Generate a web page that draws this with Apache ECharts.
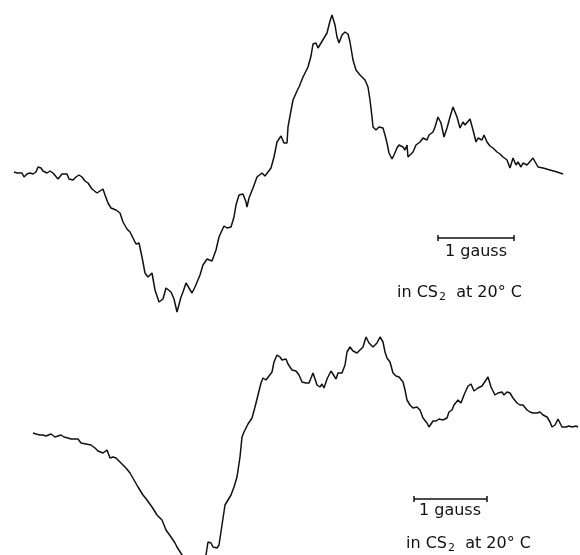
<!DOCTYPE html>
<html>
<head>
<meta charset="utf-8">
<script src="https://cdn.jsdelivr.net/npm/echarts@6/dist/echarts.min.js"></script>
<style>html,body{margin:0;padding:0;background:#fff}#c{width:580px;height:555px}</style>
</head>
<body>
<div id="c"></div>
<script>
// Field sweep position (arbitrary units) and signal (arbitrary units) for each trace
var topField = [14,17,19,22,24,27,30,33,36,38,41,43,47,50,53,55,58,62,64,67,69,73,76,79,82,85,88,92,97,100,103,105,108,111,116,120,123,127,130,133,136,139,142,145,148,152,154,155,159,163,166,168,171,174,177,181,183,186,188,192,195,200,203,207,212,214,216,219,224,227,231,234,236,239,243,246,247,249,253,257,262,265,267,271,274,277,281,284,287,288,290,293,297,299,303,308,311,313,316,318,321,323,327,330,332,335,337,339,342,345,348,350,353,356,360,365,368,370,372,373,376,379,383,385,387,389,392,394,397,399,403,405,407,408,410,413,416,420,423,427,429,433,435,438,441,444,447,450,453,457,460,463,465,467,470,473,476,478,482,484,487,490,493,497,500,503,507,510,513,516,518,521,523,527,529,533,535,538,543,550,557,563];
var topSignal = [3,2,1,2,-2,1,2,1,3,8,7,4,2,4,2,2,-4,1,2,1,-4,-5,-2,0,-2,-6,-8,-14,-18,-16,-14,-20,-28,-33,-35,-38,-47,-54,-57,-63,-69,-68,-82,-98,-102,-98,-99,-115,-127,-124,-113,-112,-117,-124,-137,-122,-117,-108,-110,-118,-112,-100,-90,-84,-86,-88,-75,-62,-51,-53,-52,-42,-30,-20,-19,-27,-32,-23,-13,-2,2,-1,-2,7,18,33,39,32,32,48,59,75,84,88,98,108,119,131,132,127,132,131,142,154,160,150,138,132,140,143,141,133,115,105,100,95,88,75,58,48,45,48,47,40,32,22,16,20,27,30,28,25,30,18,17,23,30,33,37,35,40,43,48,58,52,38,47,58,68,58,47,53,50,52,56,45,33,37,35,40,33,29,27,23,21,18,15,7,17,10,13,8,12,10,9,17,15,8,7,5,3,1];

var botField = [33,36,40,43,46,51,55,58,61,64,68,71,75,78,81,83,86,91,95,98,103,107,110,113,116,121,126,130,134,138,143,147,152,157,162,166,171,175,177,182,186,190,195,200,203,206,208,211,213,217,219,222,225,228,231,234,237,240,242,244,248,252,255,258,261,263,266,268,272,274,277,280,282,286,288,292,296,299,302,306,309,313,315,317,320,322,324,327,331,333,336,338,342,345,347,350,353,357,359,363,366,369,373,375,377,380,383,385,387,390,393,396,399,403,405,407,410,413,417,420,423,427,429,433,436,439,443,447,449,452,454,458,461,464,468,471,474,478,482,484,488,491,495,498,502,504,507,510,513,517,520,523,527,530,533,537,540,543,547,550,552,555,558,560,562,566,569,572,576,578];
var botSignal = [2,1,0,0,-1,1,-2,-1,0,-2,-3,-4,-4,-4,-8,-7,-9,-10,-13,-16,-18,-15,-23,-22,-23,-28,-33,-38,-45,-52,-60,-65,-72,-80,-85,-95,-102,-108,-112,-120,-135,-150,-160,-153,-137,-120,-107,-108,-112,-113,-110,-90,-70,-65,-60,-52,-42,-22,-2,3,11,17,28,40,52,57,55,53,63,73,80,78,75,76,71,65,64,60,53,52,52,62,60,50,48,51,47,56,64,62,56,62,62,70,83,88,84,82,80,88,98,92,88,87,92,98,93,83,77,73,62,59,58,53,45,35,30,27,28,25,17,12,8,14,14,16,15,17,23,25,30,35,32,40,49,51,44,47,49,52,58,48,40,42,43,40,43,42,37,32,30,30,25,23,22,22,23,20,18,13,8,10,16,12,8,8,9,8,9,8];

// 1-gauss scale bars (field units)
var topBar = [438, 514], topBarLevel = -63;
var botBar = [414, 487], botBarLevel = -64;

var labelGauss = '1 gauss';

function zip(a, b) { return a.map(function (v, i) { return [v, b[i]]; }); }

var chart = echarts.init(document.getElementById('c'));
var txt = '#111';
var ff = '"DejaVu Sans", sans-serif';
function condLabel(left, top) {
  return {
    type: 'text', left: left, top: top,
    style: {
      text: '{a|in CS}{s|2}{a|  at 20° C}',
      fill: txt, font: '16px ' + ff,
      rich: {
        a: { fontSize: 16, fontFamily: ff, fill: txt, lineHeight: 20 },
        s: { fontSize: 11, fontFamily: ff, fill: txt, padding: [10, 0, 0, 1], lineHeight: 20 }
      }
    }
  };
}
chart.setOption({
  animation: false,
  backgroundColor: '#fff',
  grid: { left: 0, right: 0, top: 0, bottom: 0 },
  xAxis: { type: 'value', min: 0, max: 580, show: false },
  yAxis: [
    { type: 'value', min: -380, max: 175, show: false },
    { type: 'value', min: -120, max: 435, show: false }
  ],
  series: [
    { type: 'line', data: zip(topField, topSignal), yAxisIndex: 0, showSymbol: false, symbol: 'none',
      lineStyle: { color: '#111', width: 1.5 }, clip: true },
    { type: 'line', data: zip(botField, botSignal), yAxisIndex: 1, showSymbol: false, symbol: 'none',
      lineStyle: { color: '#111', width: 1.5 }, clip: true },
    { type: 'line', data: [[topBar[0], topBarLevel], [topBar[1], topBarLevel]], yAxisIndex: 0,
      symbol: 'rect', symbolSize: [1.5, 6], itemStyle: { color: '#111' }, lineStyle: { color: '#111', width: 1.5 } },
    { type: 'line', data: [[botBar[0], botBarLevel], [botBar[1], botBarLevel]], yAxisIndex: 1,
      symbol: 'rect', symbolSize: [1.5, 6], itemStyle: { color: '#111' }, lineStyle: { color: '#111', width: 1.5 } }
  ],
  graphic: [
    { type: 'text', left: 445, top: 244, style: { text: labelGauss, fill: txt, font: '16px ' + ff } },
    { type: 'text', left: 419, top: 503, style: { text: labelGauss, fill: txt, font: '16px ' + ff } },
    condLabel(397, 282),
    condLabel(406, 533)
  ]
});
</script>
</body>
</html>
